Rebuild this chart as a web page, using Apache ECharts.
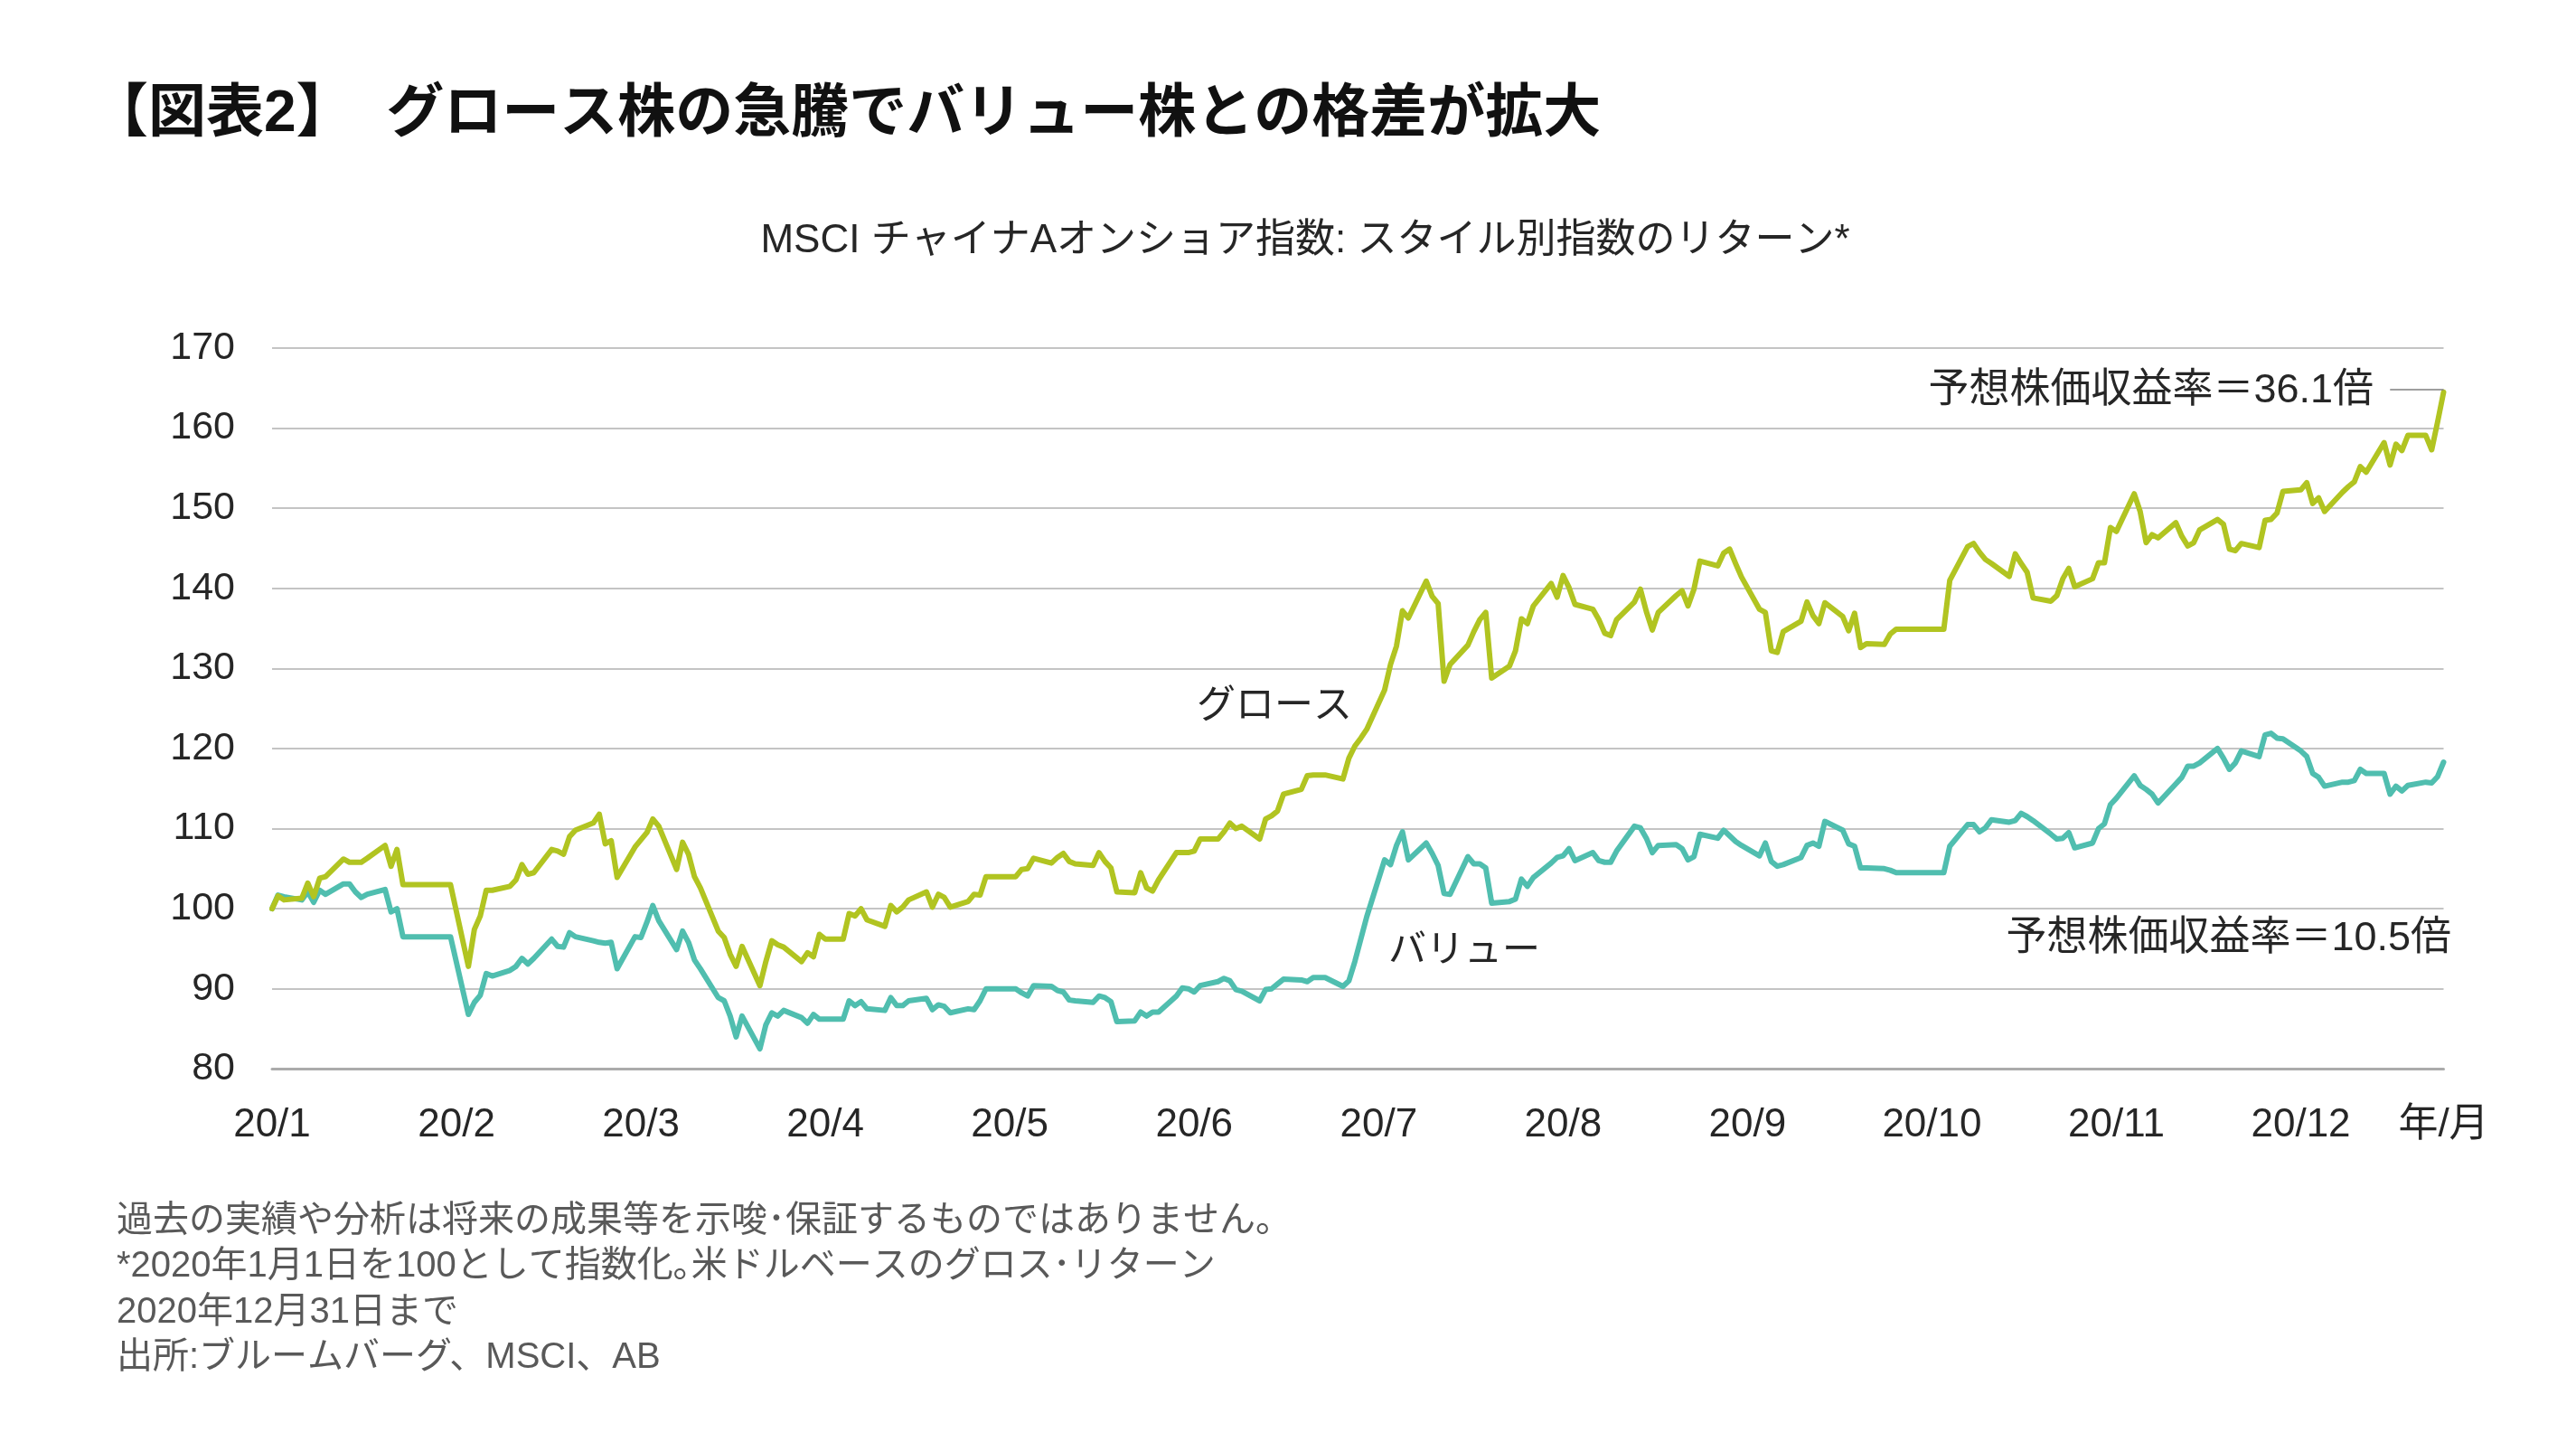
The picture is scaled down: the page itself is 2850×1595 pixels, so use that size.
<!DOCTYPE html>
<html><head><meta charset="utf-8">
<script src="https://cdn.jsdelivr.net/npm/echarts@6/dist/echarts.min.js"></script>
<style>html,body{margin:0;padding:0;background:#fff}#c{width:2850px;height:1595px}</style>
</head><body><div id="c"></div>
<script>
const FONT = "'Liberation Sans','Noto Sans CJK JP',sans-serif";

const titleText = '【図表2】  グロース株の急騰でバリュー株との格差が拡大';
const subtitleText = 'MSCI チャイナAオンショア指数: スタイル別指数のリターン*';
const tickLabels = ['20/1','20/2','20/3','20/4','20/5','20/6','20/7','20/8','20/9','20/10','20/11','20/12','年/月'];
const seriesNames = ['グロース','バリュー'];
const peLabels = ['予想株価収益率＝36.1倍','予想株価収益率＝10.5倍'];
const footnotes = [
  '過去の実績や分析は将来の成果等を示唆･保証するものではありません。',
  '*2020年1月1日を100として指数化｡米ドルベースのグロス･リターン',
  '2020年12月31日まで',
  '出所:ブルームバーグ、MSCI、AB'
];

// one value per weekday of 2020 (Jan 1 .. Dec 31)
const growth = [
  // Jan
  100.0,101.6,101.1,101.3,103.2,101.5,103.8,104.0,106.2,105.8,105.8,105.8,106.3,107.9,105.3,107.4,103.0,103.0,103.0,103.0,103.0,103.0,103.0,
  // Feb
  92.8,97.4,99.1,102.3,102.3,102.8,103.6,105.5,104.3,104.5,107.4,107.2,106.8,109.0,109.8,110.7,111.8,108.1,108.5,103.9,
  // Mar
  107.7,108.6,109.5,111.2,110.3,104.9,108.3,106.8,104.0,102.6,97.2,96.4,94.3,92.8,95.3,90.4,93.4,96.0,95.5,95.2,93.4,94.5,
  // Apr
  94.0,96.8,96.2,96.2,99.4,99.1,100.0,98.6,97.8,100.4,99.6,100.2,101.1,102.1,100.2,101.8,101.4,100.2,100.9,101.8,101.7,104.0,
  // May
  104.0,104.0,104.0,104.9,105.0,106.3,105.7,106.4,106.9,105.9,105.6,105.4,107.0,105.9,105.1,102.1,102.0,104.5,102.6,102.2,103.6,
  // Jun
  107.0,107.0,107.0,107.2,108.7,108.7,109.6,110.7,110.0,110.3,108.7,111.2,111.6,112.2,114.3,114.9,116.6,116.7,116.7,116.7,116.2,118.8,
  // Jul
  120.3,121.3,122.4,127.3,130.5,132.8,137.2,136.3,140.9,139.0,138.1,128.4,130.5,132.9,134.6,136.1,137.0,128.8,130.3,132.2,136.2,135.6,137.8,
  // Aug
  140.6,138.9,141.6,140.1,138.0,137.4,136.1,134.4,134.1,136.1,138.3,139.9,137.1,134.8,137.0,139.1,139.7,137.8,139.9,143.4,142.8,
  // Sep
  144.4,144.9,143.1,141.4,137.4,137.0,132.2,132.0,134.6,135.9,138.3,136.6,135.6,138.2,136.5,134.7,136.9,132.6,133.1,133.0,134.3,134.9,
  // Oct
  134.9,134.9,134.9,134.9,134.9,134.9,141.0,145.2,145.6,144.5,143.6,143.1,141.5,144.3,143.1,142.0,138.8,138.4,139.1,141.2,142.5,140.2,
  // Nov
  141.2,143.2,143.2,147.6,147.1,151.8,149.6,145.7,146.7,146.3,148.2,146.5,145.3,145.7,147.3,148.6,148.0,144.9,144.7,145.6,145.1,
  // Dec
  148.5,148.6,149.4,152.1,152.3,153.2,150.6,151.3,149.6,152.0,152.7,153.3,155.2,154.5,158.2,155.4,158.0,157.2,159.1,159.1,157.3,160.8,164.5
];
const value = [
  // Jan
  100.0,101.7,101.5,101.1,102.1,100.8,102.3,101.8,103.1,103.1,102.1,101.4,101.8,102.4,99.6,100.0,96.5,96.5,96.5,96.5,96.5,96.5,96.5,
  // Feb
  86.8,88.3,89.2,91.9,91.6,92.3,92.8,93.8,93.1,93.8,96.2,95.3,95.2,97.0,96.5,96.0,95.8,95.7,95.8,92.5,
  // Mar
  96.5,96.4,98.3,100.4,98.5,94.9,97.2,95.8,93.6,92.5,88.9,88.5,86.6,84.0,86.6,82.5,85.5,87.0,86.6,87.3,86.4,85.7,
  // Apr
  86.8,86.2,86.2,86.2,88.5,87.9,88.4,87.5,87.3,88.9,87.9,87.9,88.5,88.8,87.4,88.0,87.8,87.0,87.5,87.4,88.5,90.0,
  // May
  90.0,90.0,90.0,89.5,89.1,90.4,90.3,89.8,89.6,88.6,88.5,88.3,89.1,88.9,88.4,85.9,86.0,87.1,86.6,87.1,87.1,
  // Jun
  89.1,90.1,90.0,89.6,90.4,90.9,91.3,91.0,89.9,89.7,88.5,89.9,90.0,90.6,91.2,91.1,90.9,91.4,91.4,91.4,90.3,91.0,
  // Jul
  93.4,96.2,99.0,106.1,105.5,107.9,109.6,106.1,108.2,106.9,105.4,101.9,101.8,106.5,105.6,105.6,105.1,100.7,100.9,101.2,103.7,102.8,103.9,
  // Aug
  105.7,106.4,106.6,107.5,106.0,107.0,106.0,105.8,105.8,107.2,110.3,110.1,108.8,107.0,107.9,108.0,107.5,106.1,106.5,109.3,108.8,
  // Sep
  109.8,109.1,108.4,107.9,106.6,108.2,105.9,105.3,105.5,106.4,107.9,108.2,107.8,110.9,109.8,108.1,107.8,105.1,105.1,105.0,104.8,104.5,
  // Oct
  104.5,104.5,104.5,104.5,104.5,104.5,107.8,110.5,110.5,109.6,110.1,111.1,110.8,111.0,111.9,111.5,111.0,109.3,108.7,108.8,109.5,107.6,
  // Nov
  108.2,110.0,110.6,113.0,113.8,116.6,115.4,114.9,114.3,113.2,115.6,116.4,117.8,117.8,118.2,120.0,118.8,117.4,118.2,119.7,119.0,
  // Dec
  121.7,121.9,121.3,121.2,119.7,119.0,116.9,116.4,115.3,115.8,115.8,116.0,117.4,116.9,116.9,114.3,115.3,114.7,115.4,115.8,115.7,116.5,118.3
];

// weekday positions (days since 2020-01-01) - the source uses a calendar date axis
const dayOffsets = [];
for (let d = 0; d < 366; d++) {
  const wd = new Date(Date.UTC(2020, 0, 1 + d)).getUTCDay();
  if (wd !== 0 && wd !== 6) dayOffsets.push(d);
}
const lastDay = dayOffsets[dayOffsets.length - 1];
const growthData = dayOffsets.map((d, i) => [d, growth[i]]);
const valueData = dayOffsets.map((d, i) => [d, value[i]]);

const GREEN = '#B1C421';
const TEAL = '#50BEAF';
const TXT = '#262626';

const chart = echarts.init(document.getElementById('c'), null, {renderer: 'canvas'});

const txt = (x, y, text, size, opts) => Object.assign({
  type: 'text', x: x, y: y, silent: true,
  style: Object.assign({
    text: text, fill: TXT, fontSize: size, fontFamily: FONT,
    textAlign: 'left', align: 'left', textVerticalAlign: 'middle', verticalAlign: 'middle'
  }, opts || {})
});

const graphics = [
  txt(100, 127, titleText, 64, {fontWeight: 'bold', fill: '#111'}),
  txt(1444, 267, subtitleText, 44, {textAlign: 'center', align: 'center'}),
  txt(1324, 782, seriesNames[0], 43),
  txt(1536, 1052, seriesNames[1], 42),
  txt(2626, 433, peLabels[0], 45, {textAlign: 'right', align: 'right'}),
  txt(2712, 1039, peLabels[1], 45, {textAlign: 'right', align: 'right'})
];
footnotes.forEach((f, i) => graphics.push(txt(129, 1351 + i * 50.3, f, 40, {fill: '#595959'})));

chart.setOption({
  animation: false,
  backgroundColor: '#fff',
  grid: {left: 301, right: 146.5, top: 385, bottom: 412.7, containLabel: false},
  xAxis: {
    type: 'value', min: 0, max: lastDay, interval: 31,
    axisLine: {show: true, onZero: false, lineStyle: {color: '#ABABAB', width: 3}},
    axisTick: {show: false},
    splitLine: {show: false},
    axisLabel: {
      show: true, showMinLabel: true, showMaxLabel: true, margin: 41,
      fontSize: 44, fontFamily: FONT, color: TXT,
      formatter: v => v >= lastDay ? tickLabels[tickLabels.length - 1] : tickLabels[Math.round(v / 31)]
    }
  },
  yAxis: {
    type: 'value', min: 80, max: 170, interval: 10,
    axisLine: {show: false}, axisTick: {show: false},
    splitLine: {show: true, lineStyle: {color: '#C4C4C4', width: 2}},
    axisLabel: {margin: 41, fontSize: 43, fontFamily: FONT, color: TXT}
  },
  series: [
    {
      name: seriesNames[1], type: 'line', data: valueData, showSymbol: false, z: 3,
      lineStyle: {color: TEAL, width: 6, cap: 'round', join: 'round'}, silent: true
    },
    {
      name: seriesNames[0], type: 'line', data: growthData, showSymbol: false, z: 4,
      lineStyle: {color: GREEN, width: 6, cap: 'round', join: 'round'}, silent: true,
      markLine: {
        silent: true, symbol: ['none', 'none'], animation: false,
        label: {show: false},
        lineStyle: {color: '#7F7F7F', width: 1.5, type: 'solid'},
        data: [[{coord: [lastDay - 9, growth[growth.length - 1] + 0.3]}, {coord: [lastDay, growth[growth.length - 1] + 0.3]}]]
      }
    }
  ],
  graphic: graphics
});
</script></body></html>
